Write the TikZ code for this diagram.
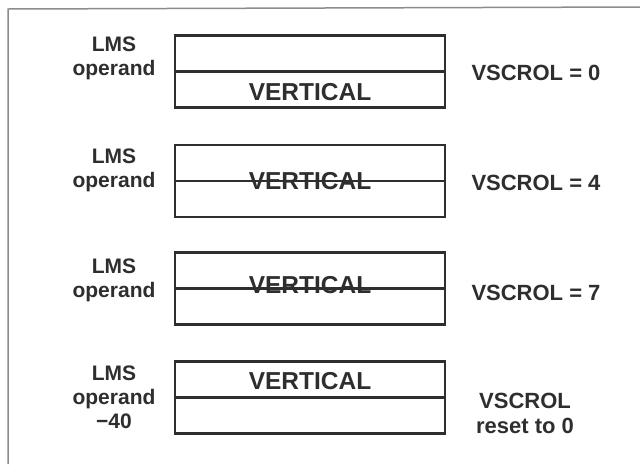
\documentclass[tikz,border=0pt]{standalone}
\usepackage{fontspec}
\setmainfont{Liberation Sans}
\begin{document}
\begin{tikzpicture}[x=1pt,y=-1pt,
  ink/.style={draw=black!82, line width=2.2pt},
  field/.style={ink, rectangle, minimum width=270pt, minimum height=72pt, inner sep=0pt},
  lbl/.style={text=black!82, font=\fontsize{21}{24}\selectfont\bfseries, align=center, inner sep=0pt},
  rlbl/.style={text=black!82, font=\fontsize{22}{25}\selectfont\bfseries, align=center, inner sep=0pt},
  big/.style={text=black!82, font=\fontsize{24.5}{26}\selectfont\bfseries, inner sep=0pt},
  frame/.style={draw=black!45, line width=1.5pt}]
\useasboundingbox (0,0) rectangle (640,464);
\fill[white] (0,0) rectangle (640,464);
\coordinate (fa) at (8,464);
\coordinate (fb) at (8,9);
\coordinate (fc) at (640,7);
\draw[frame] (fa) -- (fb) -- (fc);

% row 1
\node[field] (b1) at (310,71.5) {};
\draw[ink] (b1.west) -- (b1.east);
\node[big] (v1) at (310,92) {VERTICAL};
\node[lbl] (l1) at (114,58) {LMS\\operand};
\node[rlbl] (r1) at (536,73) {VSCROL = 0};

% row 2
\node[field] (b2) at (310,181) {};
\node[big] (v2) at (310,181) {VERTICAL};
\draw[ink] (b2.west) -- (b2.east);
\node[lbl] (l2) at (114,170) {LMS\\operand};
\node[rlbl] (r2) at (536,183) {VSCROL = 4};

% row 3
\node[field] (b3) at (310,288.5) {};
\node[big] (v3) at (310,285) {VERTICAL};
\draw[ink] (b3.west) -- (b3.east);
\node[lbl] (l3) at (114,280) {LMS\\operand};
\node[rlbl] (r3) at (536,293) {VSCROL = 7};

% row 4
\node[field] (b4) at (310,397.5) {};
\draw[ink] (b4.west) -- (b4.east);
\node[big] (v4) at (310,381) {VERTICAL};
\node[lbl] (l4) at (114,397) {LMS\\operand\\−40};
\node[rlbl] (r4) at (525,413) {VSCROL\\reset to 0};
\end{tikzpicture}
\end{document}
